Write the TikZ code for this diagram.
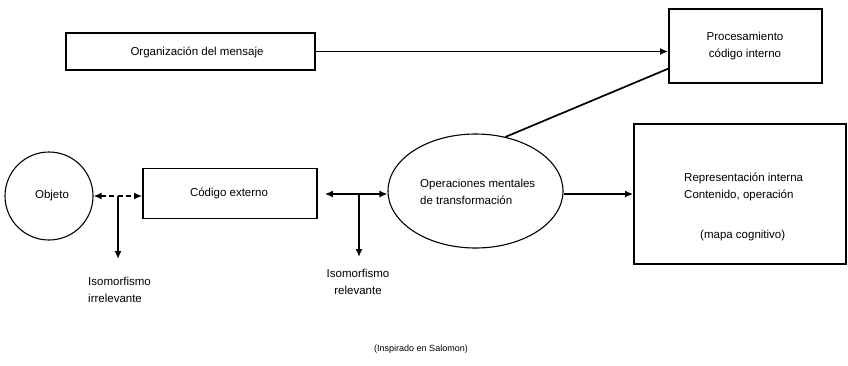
\documentclass[tikz,border=0pt]{standalone}
\usepackage{fontspec}
\setmainfont{Liberation Sans}
\usetikzlibrary{arrows.meta,shapes.geometric,calc}
\begin{document}
\begin{tikzpicture}[x=1pt,y=-1pt,
  font=\fontsize{11.5}{17}\selectfont,
  box/.style={draw,line width=1.7pt,rectangle,inner sep=0pt},
  conn/.style={line width=1.7pt},
  tip/.style={-{Latex[length=8pt,width=7pt]}},
  tips/.style={{Latex[length=8pt,width=7pt]}-{Latex[length=8pt,width=7pt]}},
  lbl/.style={align=left,inner sep=0pt}]
\useasboundingbox (0,0) rectangle (848,365);

% boxes and shapes
\node[box,minimum width=249pt,minimum height=37pt] (org) at (190.5,51.5) {};
\node[lbl] (orgtxt) at (197,52) {Organización del mensaje};
\node[box,minimum width=153pt,minimum height=74pt] (proc) at (745.5,46) {};
\node[lbl,align=center] (proctxt) at (745,46) {Procesamiento\\código interno};
\node[draw,circle,line width=1.1pt,minimum size=88pt,inner sep=0pt] (obj) at (49,196) {};
\node[lbl] (objtxt) at (52,196) {Objeto};
\node[box,minimum width=174pt,minimum height=50pt] (cod) at (230,193.5) {};
\node[lbl] (codtxt) at (229,193) {Código externo};
\node[draw,ellipse,line width=1.1pt,minimum width=175pt,minimum height=114pt,inner sep=0pt] (ops) at (475.5,191) {};
\node[lbl,anchor=west] (opstxt) at (420,191.5) {Operaciones mentales\\de transformación};
\node[box,minimum width=212pt,minimum height=140pt] (rep) at (740,194) {};
\node[lbl,anchor=west] (reptxt) at (684,186.5) {Representación interna\\Contenido, operación};
\node[lbl,anchor=west] (mapa) at (700,236) {(mapa cognitivo)};

% connectors
\draw[conn,tip] (org.east) -- (org.east -| proc.west);
\draw[conn] (ops.61) -- ($(proc.south west)!0.2!(proc.north west)$);
\draw[conn,tip] (ops.east |- rep.west) -- (rep.west);

\coordinate (j1) at (118,196);
\draw[conn,tips,dash pattern=on 5pt off 3.5pt] (obj.east) -- (cod.west |- obj.east);
\draw[conn,tip] (j1) -- ++(0,63);

\coordinate (j2) at (359,194);
\draw[conn,tips] ([xshift=7pt]cod.east |- j2) -- (ops.west |- j2);
\draw[conn,tip] (j2) -- ++(0,63);

% labels
\node[lbl,anchor=west] (irr) at (88,290) {Isomorfismo\\irrelevante};
\node[lbl,align=center] (rel) at (358,282) {Isomorfismo\\relevante};
\node[lbl,font=\fontsize{9}{10}\selectfont] (src) at (421,349) {(Inspirado en Salomon)};
\end{tikzpicture}
\end{document}
